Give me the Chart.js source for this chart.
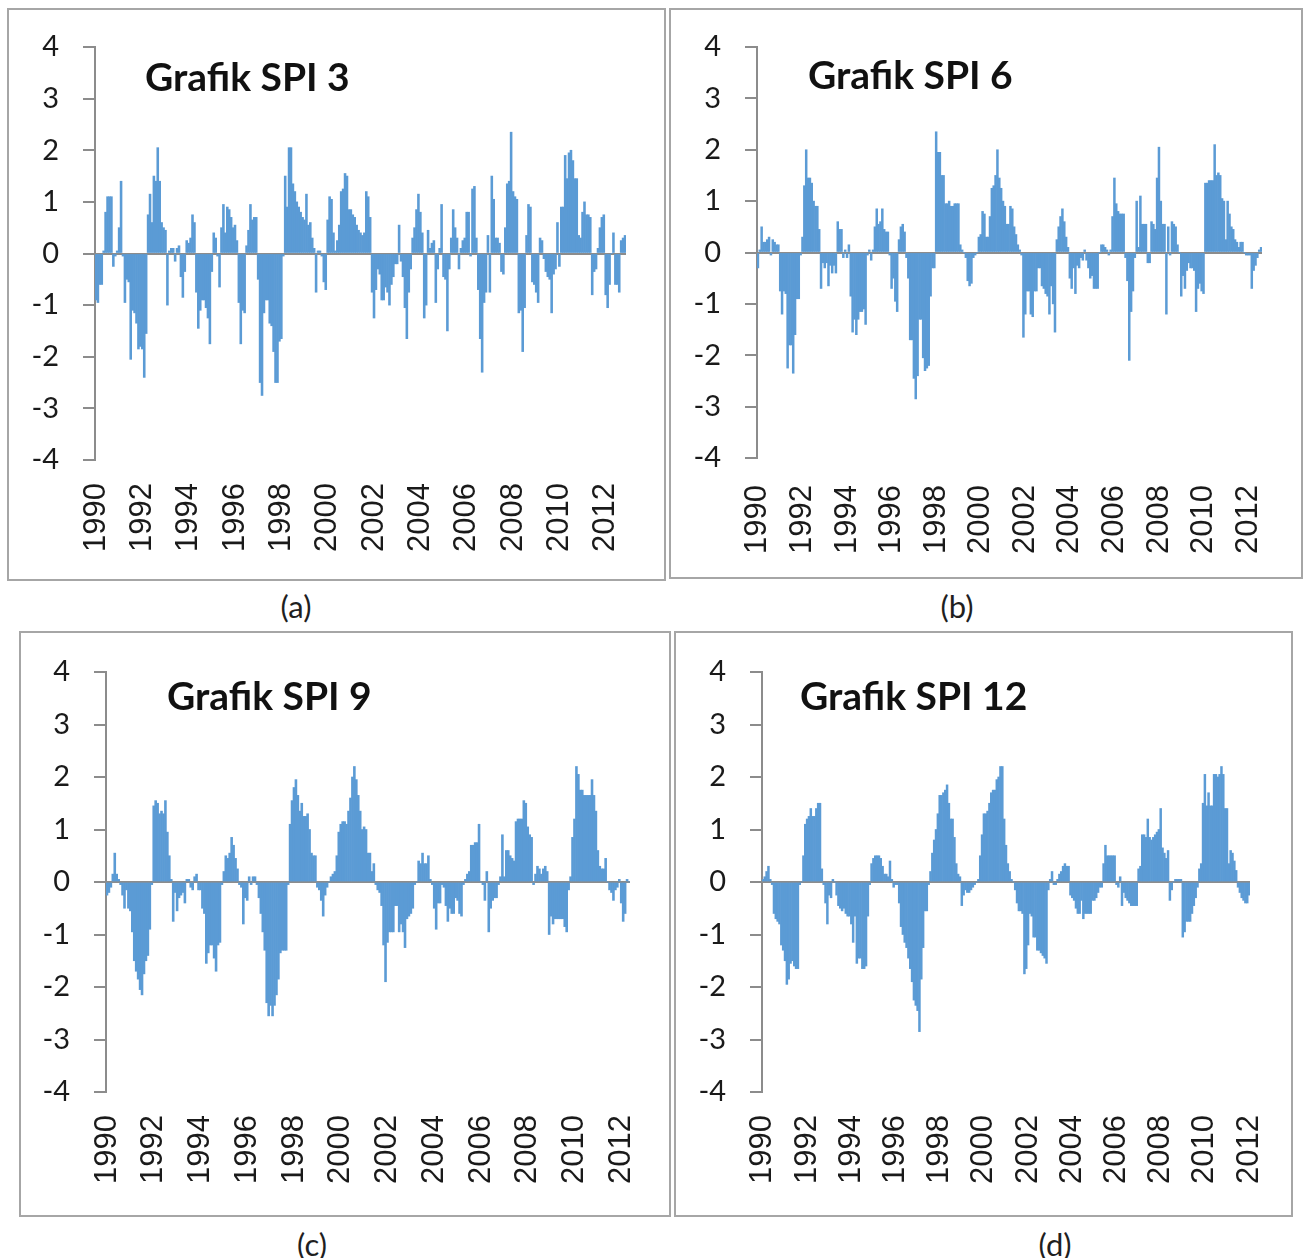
<!DOCTYPE html>
<html>
<head>
<meta charset="utf-8">
<title>Grafik SPI</title>
<script src="https://cdn.jsdelivr.net/npm/chart.js"></script>
<style>
  body { margin: 0; width: 1304px; height: 1258px; background: #fff; position: relative; overflow: hidden; }
  .frame { position: absolute; box-sizing: border-box; border: 2px solid #a6a6a6; }
  .chart { position: absolute; }
  .caption { position: absolute; width: 100px; text-align: center; font-family: Lato, sans-serif; font-size: 31px; line-height: 31px; color: #1f1f1f; }
</style>
</head>
<body>
<div class="frame" style="left:7px;top:8px;width:659px;height:573px"></div>
<div class="frame" style="left:669px;top:8px;width:634px;height:571px"></div>
<div class="frame" style="left:19px;top:631px;width:652px;height:586px"></div>
<div class="frame" style="left:674px;top:631px;width:619px;height:586px"></div>

<canvas id="spi3" class="chart" width="640" height="565" style="left:10px;top:12px"></canvas>
<canvas id="spi6" class="chart" width="620" height="565" style="left:672px;top:12px"></canvas>
<canvas id="spi9" class="chart" width="640" height="575" style="left:22px;top:635px"></canvas>
<canvas id="spi12" class="chart" width="610" height="575" style="left:677px;top:635px"></canvas>

<div class="caption" style="left:246px;top:591px">(a)</div>
<div class="caption" style="left:907px;top:591px">(b)</div>
<div class="caption" style="left:262px;top:1229px">(c)</div>
<div class="caption" style="left:1005px;top:1229px">(d)</div>

<script>
// tick labels under the x axis, one every 24 months starting Jan 1990
var yearTicks = ["1990", "1992", "1994", "1996", "1998", "2000", "2002", "2004", "2006", "2008", "2010", "2012"];

// monthly SPI values, starting Jan 1990
var spi3 = [
  -0.9,-0.95,-0.6,-0.6,0.05,0.8,1.1,1.1,1.1,-0.25,-0.05,0.05,
  0.5,1.4,-0.05,-0.95,-0.5,-0.55,-2.05,-1.1,-1.15,-1.35,-1.85,-1.8,
  -1.85,-2.4,-1.55,0.75,1.15,0.6,1.5,1.4,2.05,1.4,0.6,0.5,
  0.45,-1.0,0.05,0.1,0.1,-0.15,0.1,0.15,-0.45,-0.85,-0.35,0.25,
  0.2,0.3,0.75,0.6,-0.75,-1.45,-1.1,-0.9,-0.9,-1.05,-1.25,-1.75,
  -0.35,0.4,0.3,-0.05,-0.65,0.5,0.95,0.4,0.9,0.85,0.7,0.5,
  0.55,0.25,-0.95,-1.75,-1.1,-1.15,0.15,0.45,0.95,0.65,0.7,0.7,
  -0.5,-2.5,-2.75,-1.15,-0.9,-0.9,-1.35,-1.4,-1.9,-2.5,-2.5,-1.7,
  -1.65,-0.05,1.5,0.9,2.05,2.05,1.35,1.2,1.0,0.9,0.8,0.7,
  0.65,1.15,0.55,0.6,0.3,0.1,-0.75,0.05,0.05,-0.05,-0.55,-0.7,
  0.65,1.1,1.05,0.4,0.05,0.25,0.55,1.2,1.25,1.55,1.5,0.85,
  0.85,0.75,0.7,0.55,0.45,0.4,0.35,0.4,1.2,1.1,0.7,-0.75,
  -1.25,-0.7,-0.3,-0.4,-0.9,-0.9,-0.65,-0.75,-1.0,-0.6,-0.45,-0.2,
  -0.2,0.55,-0.15,-0.45,-1.05,-1.65,-0.75,-0.3,0.3,0.5,0.85,1.15,
  0.8,0.4,-1.25,-1.0,0.45,0.1,0.2,0.25,-0.95,-0.3,0.1,0.95,
  -0.45,-0.5,-1.5,-0.3,0.3,0.85,0.5,0.3,-0.3,0.1,0.25,0.3,
  0.8,0.8,-0.05,1.25,1.3,0.3,-0.7,-1.65,-2.3,-0.95,-0.75,0.35,
  -0.75,1.5,1.05,0.3,0.3,0.2,-0.35,-0.4,0.5,1.35,1.4,2.35,
  1.2,1.1,1.05,-1.15,-1.1,-1.9,-1.05,0.35,0.95,0.9,-0.55,-0.6,
  -0.75,-0.95,0.3,0.25,-0.1,-0.35,-0.45,-0.5,-1.15,-0.4,-0.3,0.6,
  -0.25,0.9,0.9,1.9,1.45,1.95,2.0,1.8,1.45,1.45,0.35,0.3,
  0.8,1.0,0.75,0.75,0.7,-0.8,-0.35,-0.3,0.1,0.5,0.7,0.75,
  -0.8,-1.05,-0.6,0.0,0.4,-0.6,-0.6,-0.75,0.25,0.3,0.35
];

var spi6 = [
  -0.3,0.05,0.5,0.2,0.2,0.25,0.3,-0.05,0.25,0.2,0.15,0.15,
  -0.75,-1.2,-0.75,-0.8,-2.25,-1.8,-1.8,-2.35,-1.6,-0.9,-0.9,-0.05,
  0.3,1.3,2.0,1.45,1.45,1.35,1.0,0.9,0.9,0.45,-0.7,-0.2,
  -0.3,-0.2,-0.65,-0.25,-0.4,-0.25,-0.4,0.6,0.45,0.45,-0.1,0.05,
  -0.1,0.15,-0.85,-1.55,-1.3,-1.6,-1.3,-1.15,-1.15,-1.1,-1.4,-0.05,
  0.05,-0.15,0.05,0.5,0.85,0.55,0.6,0.85,0.45,0.4,0.4,-0.05,
  -0.7,-0.5,-0.95,-1.15,0.25,0.5,0.55,0.4,-0.1,-0.5,-1.7,-1.7,
  -2.45,-2.85,-2.4,-1.3,-1.3,-2.05,-2.3,-2.25,-2.2,-0.85,-0.3,-0.3,
  2.35,1.95,1.95,1.5,1.5,0.95,0.95,1.0,0.9,0.9,0.95,0.95,
  0.95,0.15,0.05,0.0,-0.1,-0.55,-0.65,-0.6,-0.1,-0.05,0.0,0.3,
  0.35,0.8,0.75,0.3,0.3,0.7,1.25,1.3,1.5,2.0,1.45,1.25,
  1.0,0.9,0.55,0.55,0.9,0.85,0.5,0.35,0.15,0.05,-0.05,-1.65,
  -1.2,-0.75,-0.75,-1.2,-1.25,-0.75,-0.75,-0.3,-0.3,-0.65,-0.7,-0.8,
  -0.85,-1.2,-0.65,-1.0,-1.55,0.25,0.5,0.7,0.85,0.6,0.3,0.1,
  -0.5,-0.7,-0.3,-0.8,-0.25,-0.3,-0.1,-0.15,0.05,-0.15,-0.3,-0.5,
  -0.45,-0.7,-0.7,-0.7,0.0,0.15,0.15,0.1,0.05,-0.05,0.05,0.7,
  1.45,0.95,0.8,0.75,0.75,0.75,-0.1,-0.55,-2.1,-1.15,-0.75,-0.1,
  1.0,0.1,1.1,0.55,0.55,0.55,-0.2,-0.2,0.6,0.55,0.45,1.45,
  2.05,1.0,0.55,0.55,-1.2,0.5,-0.05,0.6,0.55,0.5,0.15,0.0,
  -0.85,-0.45,-0.7,-0.35,-0.2,-0.3,-0.3,-0.35,-1.15,-0.7,-0.6,-0.75,
  -0.8,1.35,1.35,1.4,1.4,1.4,2.1,1.5,1.55,1.5,1.05,1.0,
  0.25,1.0,0.75,0.5,0.45,0.25,0.2,0.1,0.2,0.2,0.0,-0.05,
  -0.05,-0.05,-0.7,-0.35,-0.25,-0.1,0.05,0.1
];

var spi9 = [
  -0.25,-0.2,-0.1,0.15,0.55,0.15,0.05,-0.05,-0.25,-0.5,-0.15,-0.5,
  -0.55,-0.95,-1.5,-1.7,-1.85,-2.05,-2.15,-1.75,-1.5,-1.4,-0.9,-0.05,
  1.45,1.55,1.5,1.3,1.35,1.3,1.55,0.95,0.5,0.05,-0.75,-0.2,
  -0.55,-0.3,-0.25,-0.2,-0.4,0.05,0.05,-0.1,-0.15,0.1,0.15,-0.15,
  -0.15,-0.5,-0.6,-1.55,-1.35,-1.2,-1.2,-1.45,-1.7,-1.2,-1.15,-0.05,
  0.2,0.5,0.45,0.55,0.85,0.7,0.45,0.25,-0.05,-0.1,-0.8,-0.3,
  -0.35,0.1,-0.05,0.1,0.1,-0.05,-0.3,-0.6,-0.95,-1.3,-2.3,-2.55,
  -2.35,-2.55,-2.35,-2.15,-1.85,-1.35,-1.3,-1.3,-1.3,-0.05,1.1,1.55,
  1.8,1.95,1.65,1.35,1.5,1.25,1.25,1.3,1.0,0.55,0.5,0.5,
  -0.1,-0.15,-0.35,-0.65,-0.25,-0.1,0.0,0.1,0.15,0.2,0.5,0.95,
  1.1,1.15,1.15,1.1,1.35,1.6,2.0,2.2,1.95,1.65,1.35,1.0,
  1.05,1.0,0.55,0.55,0.2,0.35,-0.05,-0.15,-0.2,-0.45,-1.2,-1.9,
  -1.15,-0.95,-0.95,-0.95,-0.45,-0.45,-0.95,-0.8,-0.95,-1.25,-0.7,-0.65,-0.6,
  -0.5,-0.05,0.0,0.4,0.35,0.55,0.35,0.35,0.5,0.05,-0.05,-0.5,
  -0.9,-0.4,-0.4,-0.05,-0.1,-0.45,-0.75,-0.5,-0.6,-0.6,-0.3,-0.35,-0.6,
  -0.65,-0.05,0.05,0.15,0.2,0.7,0.7,0.75,0.75,1.1,0.0,-0.05,
  -0.35,0.2,-0.95,-0.5,-0.35,-0.3,-0.3,-0.05,0.1,0.9,0.1,0.6,
  0.6,0.5,0.45,0.4,1.15,1.2,1.2,1.2,1.55,1.5,1.05,0.9,0.85,
  -0.05,0.15,0.3,0.25,0.15,0.25,0.3,0.2,-1.0,-0.65,-0.8,-0.7,-0.7,
  -0.7,-0.7,-0.7,-0.85,-0.95,-0.15,0.1,0.85,1.2,2.2,2.05,1.75,
  1.75,1.65,1.65,1.65,1.65,1.95,1.65,1.35,0.6,0.3,0.25,0.25,0.45,
  0.0,-0.15,-0.2,-0.35,-0.15,-0.1,0.05,-0.4,-0.75,-0.6,0.05,0.0
];

var spi12 = [
  0.05,0.1,0.2,0.3,0.05,-0.05,-0.6,-0.7,-0.75,-0.8,-1.2,-1.3,
  -1.5,-1.95,-1.85,-1.55,-1.5,-1.6,-1.65,-1.65,-0.05,0.0,0.5,1.1,
  1.2,1.25,1.4,1.25,1.25,1.4,1.5,1.5,0.25,-0.05,-0.4,-0.8,
  -0.25,-0.3,0.05,0.0,-0.25,-0.45,-0.5,-0.55,-0.5,-0.6,-0.65,-0.65,
  -0.8,-1.15,-0.65,-1.55,-1.45,-1.45,-1.65,-1.65,-1.6,-0.65,-0.05,0.35,
  0.45,0.5,0.5,0.5,0.45,0.3,0.15,0.15,0.1,0.4,0.05,-0.1,
  -0.05,-0.05,-0.4,-0.85,-1.0,-1.15,-1.25,-1.45,-1.65,-1.9,-2.25,-2.35,
  -2.45,-2.85,-1.85,-1.25,-0.55,-0.55,-0.05,0.2,0.55,0.8,1.0,1.3,
  1.65,1.65,1.7,1.75,1.85,1.5,1.2,1.2,0.85,0.35,0.15,0.1,
  -0.45,-0.25,-0.15,-0.2,-0.2,-0.15,-0.1,-0.05,0.0,0.05,0.5,0.9,
  1.3,1.3,1.35,1.5,1.7,1.75,1.75,1.95,2.0,2.2,2.2,1.2,
  0.7,0.35,0.2,0.05,0.0,-0.15,-0.4,-0.55,-0.55,-0.6,-1.75,-1.65,
  -1.2,-0.6,-0.65,-1.05,-1.05,-1.3,-1.3,-1.35,-1.4,-1.45,-1.55,-0.15,
  0.05,0.2,-0.05,-0.05,0.05,0.15,0.2,0.3,0.35,0.3,0.3,-0.25,
  -0.3,-0.35,-0.5,-0.6,-0.6,-0.35,-0.7,-0.6,-0.6,-0.6,-0.6,-0.35,-0.35,
  -0.3,-0.2,-0.1,-0.1,0.35,0.7,0.5,0.5,0.5,0.5,0.5,-0.05,
  -0.1,0.1,-0.45,-0.2,-0.3,-0.35,-0.4,-0.45,-0.45,-0.45,-0.45,0.25,
  0.3,0.9,0.9,0.85,1.2,0.85,0.8,0.85,0.9,0.95,1.0,1.4,0.65,
  0.55,0.45,0.6,-0.35,-0.15,0.0,0.05,0.05,0.05,0.05,-1.05,-0.95,
  -0.75,-0.75,-0.75,-0.6,-0.45,-0.3,-0.1,0.25,0.35,1.5,2.05,1.45,
  1.7,1.45,1.45,2.05,2.05,2.0,2.05,2.2,2.05,1.4,1.4,0.35,0.6,
  0.55,0.4,0.22,-0.1,-0.2,-0.3,-0.35,-0.4,-0.4,-0.25
];

// draws the bold title inside the plot area
var titlePlugin = {
  id: "panelTitle",
  afterDraw: function (chart, args, opts) {
    var c = chart.ctx;
    c.save();
    c.font = "bold 39px Lato";
    c.fillStyle = "#111";
    c.textBaseline = "alphabetic";
    c.fillText(opts.text, opts.x, opts.y);
    c.restore();
  }
};

// stop the scales from adding their own edge padding, so the plot box is exact
function fixPadding(s) {
  s.paddingLeft = 0;
  s.paddingRight = 0;
  s.paddingTop = 0;
  s.paddingBottom = 0;
}

function makeChart(id, values, title, box) {
  var ctx = document.getElementById(id).getContext("2d");
  return new Chart(ctx, {
    type: "bar",
    data: {
      labels: values.map(function (v, i) { return i; }),
      datasets: [{
        data: values,
        backgroundColor: "#5b9bd5",
        borderWidth: 0,
        barPercentage: 1.0,
        categoryPercentage: 1.0
      }]
    },
    options: {
      responsive: false,
      animation: false,
      layout: { padding: { left: 0, right: box.right, top: box.top, bottom: 0 } },
      plugins: {
        legend: { display: false },
        tooltip: { enabled: false },
        panelTitle: { text: title, x: box.titleX, y: box.titleY }
      },
      scales: {
        x: {
          grid: { display: false, drawTicks: false },
          border: { display: false },
          ticks: {
            autoSkip: false,
            minRotation: 90,
            maxRotation: 90,
            padding: box.labelPad,
            color: "#1a1a1a",
            font: { family: "Liberation Sans", size: 31 },
            callback: function (v, i) { return i % 24 === 0 ? yearTicks[i / 24] : ""; }
          },
          afterFit: function (s) { s.height = box.xHeight; fixPadding(s); }
        },
        y: {
          min: -4,
          max: 4,
          ticks: { stepSize: 1, padding: 24, color: "#1a1a1a", font: { family: "Lato", size: 29 } },
          border: { color: "#8c8c8c", width: 2 },
          grid: {
            color: function (c) { return c.tick.value === 0 ? "#8c8c8c" : "rgba(0,0,0,0)"; },
            lineWidth: 2,
            tickLength: 12,
            tickColor: "#8c8c8c",
            tickWidth: 2
          },
          afterFit: function (s) { s.width = box.yWidth; fixPadding(s); }
        }
      }
    },
    plugins: [titlePlugin]
  });
}

makeChart("spi3", spi3, "Grafik SPI 3", { yWidth: 85, xHeight: 117, top: 35, right: 24, labelPad: 23, titleX: 135, titleY: 79 });
makeChart("spi6", spi6, "Grafik SPI 6", { yWidth: 85, xHeight: 119, top: 35, right: 30, labelPad: 27, titleX: 136, titleY: 77 });
makeChart("spi9", spi9, "Grafik SPI 9", { yWidth: 84, xHeight: 118, top: 37, right: 32, labelPad: 23, titleX: 145, titleY: 75 });
makeChart("spi12", spi12, "Grafik SPI 12", { yWidth: 85, xHeight: 118, top: 37, right: 37, labelPad: 23, titleX: 123, titleY: 75 });
</script>
</body>
</html>
